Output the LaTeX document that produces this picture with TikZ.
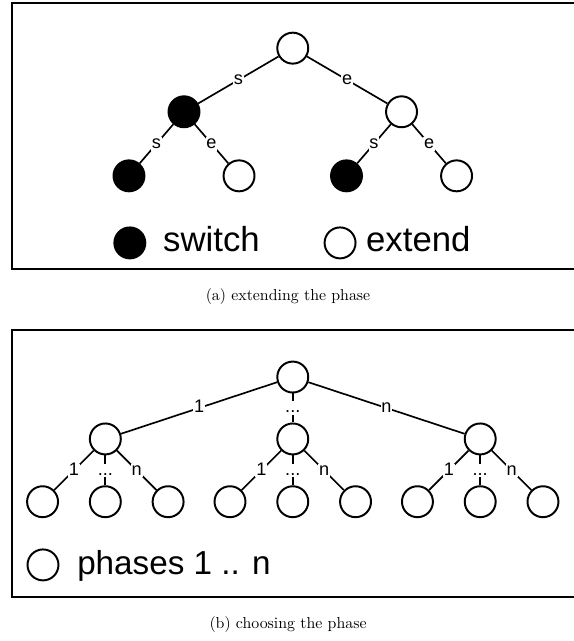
\documentclass[tikz,border=0pt]{standalone}
\usepackage{fontspec}
\newfontfamily\helv{Liberation Sans}

\begin{document}
\begin{tikzpicture}
	\tikzset{
		phase/.style={circle,draw,line width=1.3pt,minimum size=0.72cm,inner sep=0pt},
		sw/.style={phase,fill=black},
		ext/.style={phase,fill=white},
		link/.style={line width=1.1pt},
		lbl/.style={fill=white,inner sep=0.6pt,text height=0.72em,text depth=0.06em,font=\helv\fontsize{12}{12}\selectfont},
		legendtxt/.style={anchor=base west,inner sep=0pt,font=\helv\fontsize{23}{23}\selectfont},
		panel/.style={line width=1.4pt},
		caption/.style={anchor=base,inner sep=0pt,font=\fontsize{10.5}{12}\selectfont}
	}
	\clip (0,0) rectangle (13.35,-14.91);

	    \draw[panel] (0.28,-0.07) rectangle (14,-6.26);
	    \node[ext] (a0) at (6.81,-1.12) {};
	    \node[sw] (as) at (4.28,-2.60) {};
	    \node[ext] (ae) at (9.34,-2.60) {};
	    \node[sw] (ass) at (3.00,-4.09) {};
	    \node[ext] (ase) at (5.56,-4.09) {};
	    \node[sw] (aes) at (8.06,-4.09) {};
	    \node[ext] (aee) at (10.62,-4.09) {};
	    \draw[link] (a0) -- node[lbl] {s} (as);
	    \draw[link] (a0) -- node[lbl] {e} (ae);
	    \draw[link] (as) -- node[lbl] {s} (ass);
	    \draw[link] (as) -- node[lbl] {e} (ase);
	    \draw[link] (ae) -- node[lbl] {s} (aes);
	    \draw[link] (ae) -- node[lbl] {e} (aee);

	    \node[sw] (keysw) at (3.02,-5.65) {};
	    \node[legendtxt] (txtsw) at (3.79,-5.86) {switch};
	    \node[ext] (keyext) at (7.91,-5.65) {};
	    \node[legendtxt] (txtext) at (8.51,-5.86) {extend};
	    \node[caption] (capa) at (6.70,-7.00) {(a) extending the phase};



	    \begin{scope}[yshift=-7.6cm]
	    \draw[panel] (0.28,-0.07) rectangle (14,-6.28);
	    \node[ext] (b0) at (6.81,-1.17) {};
	    \node[ext] (b1) at (2.45,-2.61) {};
	    \node[ext] (bm) at (6.81,-2.61) {};
	    \node[ext] (bn) at (11.17,-2.61) {};
	    \node[ext] (b11) at (0.99,-4.07) {};
	    \node[ext] (b1m) at (2.45,-4.07) {};
	    \node[ext] (b1n) at (3.91,-4.07) {};
	    \node[ext] (bm1) at (5.35,-4.07) {};
	    \node[ext] (bmm) at (6.81,-4.07) {};
	    \node[ext] (bmn) at (8.27,-4.07) {};
	    \node[ext] (bn1) at (9.71,-4.07) {};
	    \node[ext] (bnm) at (11.17,-4.07) {};
	    \node[ext] (bnn) at (12.63,-4.07) {};
	    \draw[link] (b0) -- node[lbl] {1} (b1);
	    \draw[link] (b0) -- node[lbl] {...} (bm);
	    \draw[link] (b0) -- node[lbl] {n} (bn);
	    \draw[link] (b1) -- node[lbl] {1} (b11);
	    \draw[link] (b1) -- node[lbl] {...} (b1m);
	    \draw[link] (b1) -- node[lbl] {n} (b1n);
	    \draw[link] (bm) -- node[lbl] {1} (bm1);
	    \draw[link] (bm) -- node[lbl] {...} (bmm);
	    \draw[link] (bm) -- node[lbl] {n} (bmn);
	    \draw[link] (bn) -- node[lbl] {1} (bn1);
	    \draw[link] (bn) -- node[lbl] {...} (bnm);
	    \draw[link] (bn) -- node[lbl] {n} (bnn);

	    \node[ext] (keyph) at (1.00,-5.54) {};
	    \node[legendtxt,font=\helv\fontsize{22}{22}\selectfont] (txtph) at (1.79,-5.77) {phases 1 .. n};
	    \node[caption] (capb) at (6.70,-7.02) {(b) choosing the phase};
	    \end{scope}

\end{tikzpicture}
\end{document}
